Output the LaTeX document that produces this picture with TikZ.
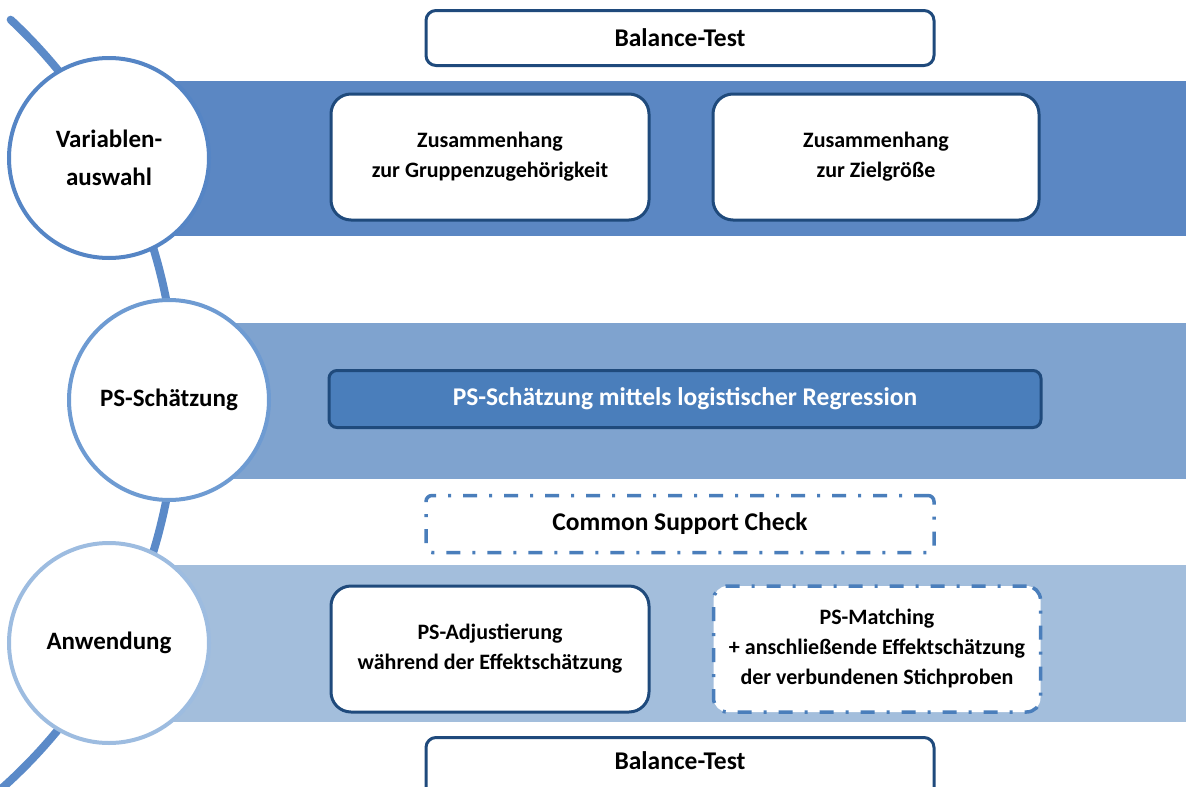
\documentclass[tikz,border=0pt]{standalone}
\usepackage{fontspec}
\setmainfont{Carlito}
\definecolor{bandA}{HTML}{5B87C3}
\definecolor{bandB}{HTML}{7FA3CF}
\definecolor{bandC}{HTML}{A3BEDC}
\definecolor{navy}{HTML}{1F4A7C}
\definecolor{arcblue}{HTML}{5B8AC8}
\definecolor{circA}{HTML}{5585C5}
\definecolor{circB}{HTML}{6E9BD2}
\definecolor{circC}{HTML}{9DBCE0}
\definecolor{psfill}{HTML}{4A7EBB}
\definecolor{dashblue}{HTML}{4A7EBB}
\tikzset{
  txt/.style={font=\fontsize{22}{30}\selectfont\bfseries, align=center, text=black},
  bigtxt/.style={font=\fontsize{25.5}{30}\selectfont\bfseries, align=center, text=black},
  solidbox/.style={txt, draw=navy, line width=3pt, fill=white, rounded corners=20pt, inner sep=0pt},
  thinbox/.style={solidbox, bigtxt, rounded corners=10pt},
  dashbox/.style={txt, draw=dashblue, line width=3.5pt, fill=white, rounded corners=14pt, inner sep=0pt,
     dash pattern=on 14pt off 12pt on 3pt off 12pt},
  stage/.style={circle, fill=white, line width=4pt, minimum size=200pt, inner sep=0pt,
     font=\fontsize{25}{38}\selectfont\bfseries, align=center, text=black},
}
\begin{document}
\begin{tikzpicture}[x=1pt,y=-1pt]
\useasboundingbox (0,0) rectangle (1186,787);
\clip (0,0) rectangle (1186,787);
% arc
\draw[arcblue, line width=8pt, line cap=round] (-344,400) ++(-47:520) arc[start angle=-47, end angle=50, radius=520];
% bands
\fill[bandA] (109,81) rectangle (1186,236);
\fill[bandB] (169,323) rectangle (1186,479);
\fill[bandC] (109,565) rectangle (1186,722);
% circles
\node[stage, draw=circA] (c1) at (109,158) {Variablen-\\auswahl};
\node[stage, draw=circB] (c2) at (169,400) {PS-Schätzung};
\node[stage, draw=circC] (c3) at (109,643) {Anwendung};
% boxes
\node[thinbox, minimum width=508pt, minimum height=55pt] (bt1) at (680,38) {Balance-Test};
\node[solidbox, minimum width=318pt, minimum height=126pt] (z1) at (490,157) {Zusammenhang\\zur Gruppenzugehörigkeit};
\node[solidbox, minimum width=326pt, minimum height=126pt] (z2) at (876,157) {Zusammenhang\\zur Zielgröße};
\node[bigtxt, draw=navy, line width=3pt, fill=psfill, text=white, rounded corners=8pt, minimum width=712pt, minimum height=57pt, inner sep=0pt] (ps) at (685,399) {PS-Schätzung mittels logistischer Regression};
\node[dashbox, bigtxt, rounded corners=6pt, minimum width=508pt, minimum height=57pt] (cs) at (680,524) {Common Support Check};
\node[solidbox, minimum width=318pt, minimum height=126pt] (adj) at (490,649) {PS-Adjustierung\\während der Effektschätzung};
\node[dashbox, minimum width=327pt, minimum height=126pt] (mat) at (877,649) {PS-Matching\\+ anschließende Effektschätzung\\der verbundenen Stichproben};
\node[thinbox, minimum width=508pt, minimum height=80pt, anchor=north] (bt2) at (680,736) {};
\node[bigtxt] (bt2t) at (680,761) {Balance-Test};
\end{tikzpicture}
\end{document}
